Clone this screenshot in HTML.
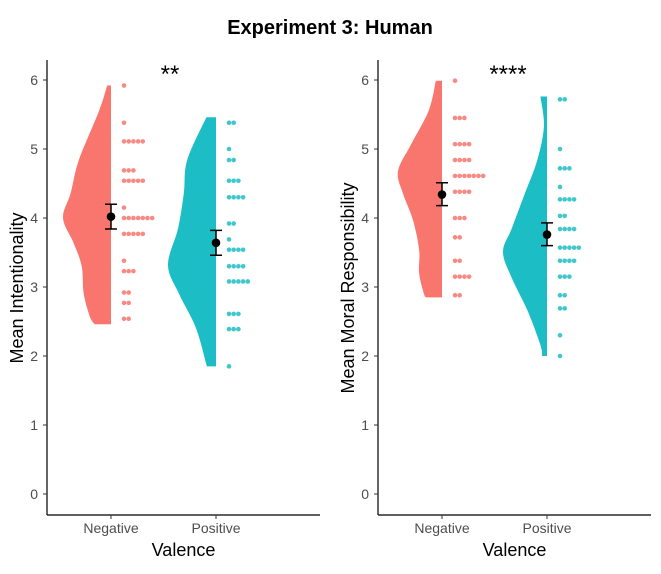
<!DOCTYPE html>
<html><head><meta charset="utf-8"><style>
body{margin:0;background:#fff;}
svg text{font-family:"Liberation Sans",Arial,sans-serif;}
</style></head><body>
<svg id="chart" width="661" height="569">
<text x="330" y="34" text-anchor="middle" font-size="20" font-weight="bold">Experiment 3: Human</text>
</svg>
<script>
// Panel 1: Mean Intentionality
const categories=["Negative","Positive"];
const p1NegDots=[[5.92,1],[5.38,1],[5.11,5],[4.69,3],[4.54,5],[4.15,1],[4.0,7],[3.77,5],[3.38,1],[3.23,3],[2.92,2],[2.77,2],[2.54,2]];
const p1PosDots=[[5.38,2],[5.0,1],[4.84,2],[4.54,3],[4.30,4],[3.92,2],[3.69,1],[3.54,4],[3.30,4],[3.08,5],[2.61,3],[2.39,3],[1.85,1]];
const p1Means=[4.02,3.64];
const p1CILow=[3.84,3.46];
const p1CIHigh=[4.20,3.82];
// violin density profiles: [value, relative half-density]
const p1NegDensity=[[5.92,0.08],[5.55,0.25],[4.84,0.67],[4.36,0.84],[4.0,1.0],[3.64,0.78],[3.3,0.61],[2.91,0.57],[2.57,0.44],[2.46,0.34]];
const p1PosDensity=[[5.46,0.2],[4.84,0.6],[4.36,0.67],[3.85,0.79],[3.32,1.0],[2.9,0.77],[2.41,0.42],[1.85,0.19]];
// Panel 2: Mean Moral Responsibility
const p2NegDots=[[5.99,1],[5.45,3],[5.07,4],[4.84,4],[4.61,7],[4.38,4],[4.0,3],[3.72,2],[3.38,2],[3.15,4],[2.88,2]];
const p2PosDots=[[5.72,2],[5.0,1],[4.72,3],[4.45,1],[4.27,4],[4.03,2],[3.84,4],[3.57,5],[3.38,4],[3.15,3],[2.88,2],[2.69,2],[2.30,1],[2.0,1]];
const p2Means=[4.34,3.76];
const p2CILow=[4.18,3.60];
const p2CIHigh=[4.51,3.93];
const p2NegDensity=[[5.99,0.14],[5.56,0.3],[5.07,0.7],[4.68,1.0],[4.36,0.89],[3.97,0.66],[3.54,0.52],[3.2,0.52],[2.9,0.41],[2.85,0.36]];
const p2PosDensity=[[5.76,0.15],[5.33,0.07],[4.84,0.22],[4.36,0.5],[3.85,0.8],[3.51,1.0],[3.13,0.8],[2.64,0.43],[2.16,0.15],[2.0,0.11]];
const yTicks=[0,1,2,3,4,5,6];
const ns="http://www.w3.org/2000/svg";
const svg=document.getElementById('chart');
const colors=["#F8766D","#1CBDC4"];
function el(t,a){const e=document.createElementNS(ns,t);for(const k in a)e.setAttribute(k,a[k]);svg.appendChild(e);return e;}
const y=v=>494-v*69;
function smooth(pts){
  let d='';
  for(let i=0;i<pts.length-1;i++){
    const p0=pts[Math.max(0,i-1)],p1=pts[i],p2=pts[i+1],p3=pts[Math.min(pts.length-1,i+2)];
    const c1=[p1[0]+(p2[0]-p0[0])/6,p1[1]+(p2[1]-p0[1])/6];
    const c2=[p2[0]-(p3[0]-p1[0])/6,p2[1]-(p3[1]-p1[1])/6];
    d+=` C${c1[0]},${c1[1]} ${c2[0]},${c2[1]} ${p2[0]},${p2[1]}`;
  }
  return d;
}
function panel(ax,title,stars,starX,negD,posD,negDots,posDots,means,lo,hi,maxW){
  const cx=[ax+64,ax+169];
  const xEnd=ax+273;
  let l=el('line',{x1:ax,y1:60,x2:ax,y2:515,stroke:'#000','stroke-width':1.2});
  
  l=el('line',{x1:ax,y1:515,x2:xEnd,y2:515,stroke:'#000','stroke-width':1.2});
  
  yTicks.forEach(t=>{
    const tk=el('line',{x1:ax-4,y1:y(t),x2:ax,y2:y(t),stroke:'#333'});
    
    const tl=el('text',{x:ax-9,y:y(t)+5,'text-anchor':'end','font-size':14,fill:'#4d4d4d'});
    tl.textContent=t;
    
  });
  categories.forEach((c,i)=>{
    const tk=el('line',{x1:cx[i],y1:515,x2:cx[i],y2:519,stroke:'#333'});
    
    const tl=el('text',{x:cx[i],y:533,'text-anchor':'middle','font-size':14,fill:'#4d4d4d'});
    tl.textContent=c;
    
  });
  let t=el('text',{x:(ax+xEnd)/2,y:556,'text-anchor':'middle','font-size':18});
  t.textContent='Valence';
  t=el('text',{x:0,y:0,'text-anchor':'middle','font-size':18,transform:`translate(${ax-24},288) rotate(-90)`});
  t.textContent=title;
  t=el('text',{x:starX,y:82,'text-anchor':'middle','font-size':24});
  t.textContent=stars;
  [negD,posD].forEach((d,i)=>{
    const right=cx[i];
    const pts=d.map(q=>[right-q[1]*maxW,y(q[0])]);
    let p=`M${right},${pts[0][1]} L${pts[0][0]},${pts[0][1]}`+smooth(pts)+` L${right},${pts[pts.length-1][1]} Z`;
    const v=el('path',{d:p,fill:colors[i]});
    
    
  });
  [negDots,posDots].forEach((ds,i)=>{
    ds.forEach(q=>{for(let k=0;k<q[1];k++){
      const c=el('circle',{cx:cx[i]+13+k*4.7,cy:y(q[0]),r:2.3,fill:colors[i],opacity:0.85});
      
    }});
  });
  means.forEach((m,i)=>{
    const x=cx[i];
    const g=el('path',{d:`M${x},${y(lo[i])}V${y(hi[i])}M${x-6},${y(lo[i])}H${x+6}M${x-6},${y(hi[i])}H${x+6}`,stroke:'#000','stroke-width':1.5,fill:'none'});
    
    const c=el('circle',{cx:x,cy:y(m),r:4.3,fill:'#000'});
    
  });
}
panel(47,'Mean Intentionality','**',170,p1NegDensity,p1PosDensity,p1NegDots,p1PosDots,p1Means,p1CILow,p1CIHigh,48);
panel(378,'Mean Moral Responsibility','****',508,p2NegDensity,p2PosDensity,p2NegDots,p2PosDots,p2Means,p2CILow,p2CIHigh,44);
</script>
</body></html>
